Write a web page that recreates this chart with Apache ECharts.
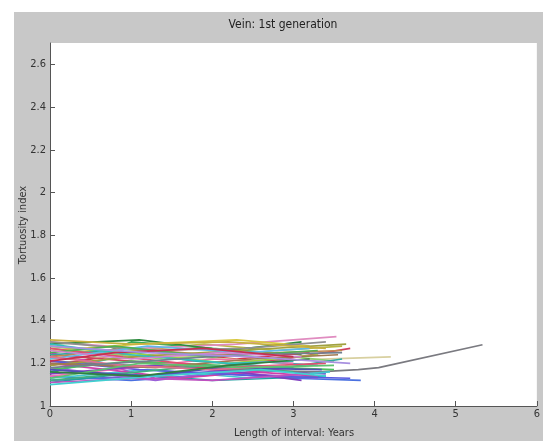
<!DOCTYPE html>
<html>
<head>
<meta charset="utf-8">
<script src="https://cdn.jsdelivr.net/npm/echarts@6/dist/echarts.min.js"></script>
<style>html,body{margin:0;padding:0;background:#fff}#c{width:543px;height:441px}</style>
</head>
<body>
<div id="c"></div>
<script>
const titleText = "Vein: 1st generation";
const xTitle = "Length of interval: Years";
const yTitle = "Tortuosity index";
const xTicks = [0, 1, 2, 3, 4, 5, 6];
const yTicks = [1, 1.2, 1.4, 1.6, 1.8, 2, 2.2, 2.4, 2.6];

const lineXs = [
  [0,1.0,2.0,3.1],
  [0,1.2,2.3,3.2],
  [0,0.6,1.3,2.2,3.0],
  [0,1.2,2.1,3.3],
  [0,1.1,2.4,3.4],
  [0,0.8,1.9,2.8,3.6],
  [0,1.0,2.2,3.3,3.8,4.05,5.33],
  [0,1.3,2.6,4.2],
  [0,1.0,2.2,3.0,3.83],
  [0,1.1,2.3,3.53],
  [0,0.9,2.0,3.4],
  [0,1.4,2.5,3.5],
  [0,1.0,1.9,2.9,3.7],
  [0,1.1,2.2,3.1],
  [0,1.3,2.1,3.3],
  [0,0.9,2.0,3.6],
  [0,1.2,2.5,3.45],
  [0,0.7,1.6,2.5,3.3],
  [0,1.1,2.3,3.2],
  [0,1.2,2.4,3.4],
  [0,1.0,2.1,3.5],
  [0,1.1,2.6,3.7],
  [0,1.0,2.0,3.0],
  [0,0.8,1.8,2.9,3.6],
  [0,1.2,2.2,3.3],
  [0,1.3,2.3,3.1],
  [0,0.9,2.1,3.4],
  [0,1.1,1.9,3.0],
  [0,1.0,2.3,3.65],
  [0,1.2,2.4,3.2],
  [0,1.1,2.0,3.2],
  [0,0.8,2.0,3.3],
  [0,1.3,2.5,3.55],
  [0,1.0,2.2,3.0],
  [0,1.2,2.1,3.35],
  [0,0.9,2.0,2.9],
  [0,1.1,2.4,3.5],
  [0,1.0,2.2,3.4],
  [0,1.2,2.3,3.6],
  [0,1.0,2.1,3.1],
  [0,1.3,2.6,3.4],
  [0,0.8,1.9,3.0],
  [0,1.1,2.2,3.2],
  [0,1.2,2.5,3.7]
];
const lineYs = [
  [1.15,1.30,1.27,1.24],
  [1.19,1.26,1.22,1.25],
  [1.25,1.20,1.13,1.15,1.18],
  [1.16,1.26,1.22,1.19],
  [1.12,1.14,1.17,1.15],
  [1.28,1.25,1.29,1.26,1.28],
  [1.21,1.19,1.17,1.16,1.17,1.18,1.287],
  [1.22,1.24,1.21,1.23],
  [1.14,1.12,1.15,1.13,1.12],
  [1.30,1.27,1.29,1.325],
  [1.11,1.15,1.12,1.14],
  [1.27,1.22,1.25,1.21],
  [1.24,1.21,1.18,1.22,1.27],
  [1.29,1.31,1.26,1.30],
  [1.18,1.12,1.16,1.13],
  [1.23,1.27,1.24,1.26],
  [1.13,1.17,1.13,1.16],
  [1.20,1.17,1.13,1.16,1.14],
  [1.26,1.29,1.31,1.28],
  [1.30,1.26,1.27,1.30],
  [1.17,1.21,1.19,1.17],
  [1.21,1.17,1.14,1.13],
  [1.14,1.18,1.22,1.20],
  [1.24,1.26,1.21,1.18,1.22],
  [1.28,1.24,1.20,1.24],
  [1.15,1.19,1.16,1.12],
  [1.27,1.23,1.18,1.20],
  [1.12,1.16,1.19,1.16],
  [1.19,1.23,1.26,1.29],
  [1.22,1.28,1.25,1.27],
  [1.11,1.13,1.12,1.15],
  [1.25,1.28,1.23,1.26],
  [1.20,1.18,1.22,1.24],
  [1.29,1.24,1.20,1.21],
  [1.17,1.14,1.18,1.17],
  [1.23,1.19,1.17,1.19],
  [1.13,1.20,1.18,1.19],
  [1.31,1.29,1.30,1.27],
  [1.18,1.21,1.24,1.25],
  [1.26,1.22,1.25,1.23],
  [1.10,1.14,1.17,1.14],
  [1.21,1.25,1.27,1.23],
  [1.16,1.14,1.19,1.22],
  [1.28,1.25,1.23,1.20]
];
const lineColors = [
  '#3aa857','#d8334a','#c03cc0','#22b8c8','#7060d0','#b8b840','#7a7a80','#d8d0a0',
  '#4a70e0','#e08cc0','#20a0a0','#90d070','#d04060','#2e8b3e','#9a60d8','#c08850',
  '#40c8d0','#d040a8','#d8c840','#909090','#50c060','#5a5ae0','#f070b0','#30a8a0',
  '#a0d040','#8040c0','#e05070','#40b080','#a0a040','#60b8e8','#c050c0','#50b050',
  '#a07850','#30c0c0','#5050b0','#e07090','#60c070','#c8b040','#708090','#d080d0',
  '#40d0d0','#c83050','#308040','#a890e0'
];

const series = lineXs.map((xs, i) => ({
  type: 'line',
  data: xs.map((x, j) => [x, lineYs[i][j]]),
  showSymbol: false,
  silent: true,
  lineStyle: { width: 1.7, color: lineColors[i] },
  itemStyle: { color: lineColors[i] }
}));

const font = "'Liberation Sans Narrow','DejaVu Sans Condensed','Liberation Sans',sans-serif";
const chart = echarts.init(document.getElementById('c'), null, { renderer: 'canvas' });
chart.setOption({
  animation: false,
  backgroundColor: '#c8c8c8',
  grid: { left: 50, right: 4, top: 43, bottom: 35, show: true, backgroundColor: '#ffffff', borderWidth: 0 },
  xAxis: {
    type: 'value', min: 0, max: 6, interval: 1,
    axisLine: { show: true, lineStyle: { color: '#555', width: 1 } },
    axisTick: { show: true, inside: true, length: 5, lineStyle: { color: '#555' }, customValues: xTicks },
    axisLabel: { color: '#333', fontSize: 11, fontFamily: font, margin: 3, customValues: xTicks },
    splitLine: { show: false }
  },
  yAxis: {
    type: 'value', min: 1, max: 2.7, interval: 0.2,
    axisLine: { show: true, lineStyle: { color: '#555', width: 1 } },
    axisTick: { show: true, inside: true, length: 5, lineStyle: { color: '#555' }, customValues: yTicks },
    axisLabel: { color: '#333', fontSize: 11, fontFamily: font, margin: 4, customValues: yTicks },
    splitLine: { show: false }
  },
  graphic: [
    { type: 'rect', shape: { x: 0, y: 0, width: 543, height: 12 }, style: { fill: '#fff' }, silent: true },
    { type: 'rect', shape: { x: 0, y: 0, width: 14, height: 441 }, style: { fill: '#fff' }, silent: true },
    { type: 'text', x: 283, y: 25, style: { text: titleText, fill: '#222', font: '12px ' + font, textAlign: 'center', textVerticalAlign: 'middle' } },
    { type: 'text', x: 294, y: 433, style: { text: xTitle, fill: '#333', font: '11px ' + font, textAlign: 'center', textVerticalAlign: 'middle' } },
    { type: 'text', x: 23, y: 225, rotation: Math.PI / 2, style: { text: yTitle, fill: '#333', font: '11px ' + font, textAlign: 'center', textVerticalAlign: 'middle' } }
  ],
  series: series
});
</script>
</body>
</html>
